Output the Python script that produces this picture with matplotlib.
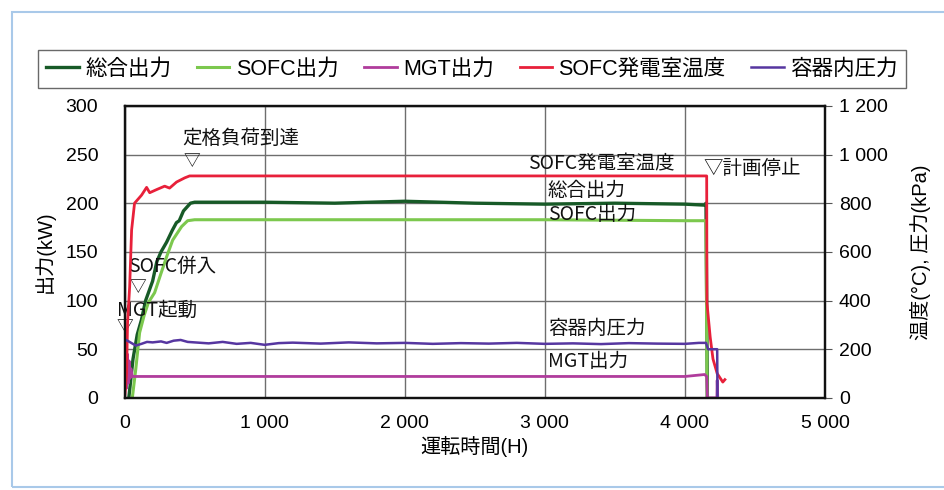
import matplotlib
matplotlib.use("Agg")
import matplotlib.pyplot as plt
from matplotlib.patches import Rectangle
from matplotlib.ticker import FuncFormatter

plt.rcParams['font.family'] = ['Liberation Sans', 'Noto Sans CJK JP', 'DejaVu Sans']
plt.rcParams['axes.unicode_minus'] = False

# 総合出力 (kW)
total_h = [30, 60, 90, 120, 150, 180, 200, 230, 260, 300, 340, 370, 390, 420, 470, 500,
           1000, 1500, 2000, 2500, 3000, 3500, 4000, 4140, 4150, 4160]
total_kw = [0, 40, 65, 80, 100, 112, 120, 140, 150, 160, 172, 180, 182, 192, 200, 201,
            201, 200, 202, 200, 199, 200, 199, 198, 200, 0]

# SOFC出力 (kW)
sofc_h = [55, 80, 107, 140, 170, 214, 260, 300, 343, 407, 450, 500,
          1000, 2000, 3000, 4000, 4150, 4158]
sofc_kw = [0, 30, 67, 85, 98, 108, 128, 145, 162, 176, 182, 183,
           183, 183, 183, 182, 182, 0]

# MGT出力 (kW)
mgt_h = [0, 8, 14, 20, 26, 32, 38, 45, 55, 80, 1000, 2000, 3000, 4000, 4140, 4155, 4160,
         4228, 4230, 4234]
mgt_kw = [0, 40, 10, 45, 15, 38, 20, 30, 22, 22, 22, 22, 22, 22, 24, 22, 0,
          0, 18, 0]

# SOFC発電室温度 (°C)
temp_h = [0, 14, 21, 36, 50, 71, 121, 157, 179, 229, 286, 321, 371, 429, 464,
          4155, 4157, 4180, 4200, 4230, 4270, 4285]
temp_c = [0, 100, 308, 456, 690, 800, 833, 865, 843, 856, 870, 862, 887, 904, 912,
          912, 390, 250, 160, 100, 65, 75]

# 容器内圧力 (kPa)
pres_h = [0, 20, 50, 80, 120, 160, 200, 260, 300, 350, 400, 450, 500, 600, 700, 800, 900,
          1000, 1100, 1200, 1400, 1600, 1800, 2000, 2200, 2400, 2600, 2800, 3000, 3200,
          3400, 3600, 3800, 4000, 4100, 4150, 4165, 4230, 4232]
pres_kpa = [240, 235, 225, 215, 222, 230, 228, 232, 226, 235, 238, 230, 228, 224, 230, 222, 226,
            218, 225, 227, 223, 228, 224, 226, 222, 225, 223, 226, 222, 224,
            221, 225, 223, 222, 226, 226, 200, 200, 0]

# event annotations: (text, x, y, ha, size)
events = [
    ("定格負荷到達", 414, 266, 'left', 14),
    ("▽", 479, 243, 'center', 12),
    ("SOFC併入", 21, 135, 'left', 14),
    ("▽", 93, 113, 'center', 12),
    ("MGT起動", -57, 90, 'left', 14),
    ("▽", 0, 72, 'center', 12),
    ("SOFC発電室温度", 3929, 240, 'right', 14),
    ("▽計画停止", 4129, 236, 'left', 14),
    ("総合出力", 3021, 213, 'left', 14),
    ("SOFC出力", 3021, 188, 'left', 14),
    ("容器内圧力", 3021, 71, 'left', 14),
    ("MGT出力", 3021, 37, 'left', 14),
]

c_total = '#175a27'
c_sofc = '#7cc84e'
c_mgt = '#b03c9c'
c_temp = '#e8203a'
c_pres = '#5636a0'

fig = plt.figure(figsize=(9.44, 4.9), dpi=100)
fig.patches.append(Rectangle((0.013, 0.006), 1.2, 0.969, transform=fig.transFigure,
                             fill=False, edgecolor='#a9c9e9', linewidth=1.5))
ax = fig.add_axes([0.132, 0.188, 0.742, 0.596])
ax2 = ax.twinx()

l1, = ax.plot(total_h, total_kw, color=c_total, lw=2.4, label='総合出力')
l2, = ax.plot(sofc_h, sofc_kw, color=c_sofc, lw=2.2, label='SOFC出力')
l3, = ax.plot(mgt_h, mgt_kw, color=c_mgt, lw=2.0, label='MGT出力')
l4, = ax2.plot(temp_h, temp_c, color=c_temp, lw=2.0, label='SOFC発電室温度')
l5, = ax2.plot(pres_h, pres_kpa, color=c_pres, lw=1.8, label='容器内圧力')

ax.set_xlim(0, 5000)
ax.set_ylim(0, 300)
ax2.set_ylim(0, 1200)
ax.set_xticks(range(0, 5001, 1000))
ax.set_yticks(range(0, 301, 50))
ax2.set_yticks(range(0, 1201, 200))

sp = FuncFormatter(lambda v, p: f"{int(v):,}".replace(',', ' '))
ax.xaxis.set_major_formatter(sp)
ax2.yaxis.set_major_formatter(sp)

ax.grid(True, color='#6e6e6e', lw=1.0)
ax.set_axisbelow(True)
ax.tick_params(axis='x', length=0, labelsize=14, pad=12)
ax.tick_params(axis='y', length=0, labelsize=14, pad=19)
ax2.tick_params(axis='y', length=5, direction='out', labelsize=14, pad=5, color='#555555')
for a in (ax, ax2):
    for s in a.spines.values():
        s.set_linewidth(1.6)
        s.set_color('#111111')

ax.set_xlabel('運転時間(H)', fontsize=14.5, labelpad=3)
ax.set_ylabel('出力(kW)', fontsize=14.5, labelpad=8)
ax2.set_ylabel('温度(°C), 圧力(kPa)', fontsize=14.5, labelpad=16)

for txt, x, y, ha, fs in events:
    ax.text(x, y, txt, ha=ha, va='center', fontsize=fs, color='#111111',
            family=['Noto Sans CJK JP', 'DejaVu Sans'], clip_on=False)

leg = fig.legend(handles=[l1, l2, l3, l4, l5], loc='center', ncol=5,
                 bbox_to_anchor=(0.5, 0.859), fontsize=15.5, frameon=True,
                 fancybox=False, edgecolor='#444444', handlelength=1.5,
                 handletextpad=0.3, columnspacing=1.2, borderpad=0.4)
leg.get_frame().set_linewidth(1.0)

fig.savefig('out.png', dpi=100)
